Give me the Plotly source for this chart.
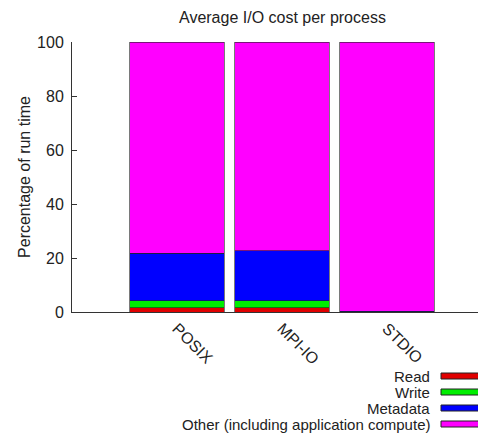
import plotly.graph_objects as go

categories = ["POSIX", "MPI-IO", "STDIO"]
read = [1.6, 1.6, 0.0]
write = [2.6, 2.6, 0.0]
metadata = [17.5, 18.4, 0.3]
other = [78.3, 77.4, 99.7]

series_names = ["Read", "Write", "Metadata", "Other (including application compute)"]
series_values = [read, write, metadata, other]
colors = ["#e00000", "#00ee00", "#0000ff", "#ff00ff"]

x_idx = list(range(len(categories)))

fig = go.Figure()
for name, vals, col in zip(series_names, series_values, colors):
    fig.add_trace(go.Bar(
        x=x_idx, y=vals, name=name, width=0.9,
        marker=dict(color=col, line=dict(color="#222222", width=0.6)),
        showlegend=False,
    ))

FONT = "Liberation Sans, Arial, Helvetica, sans-serif"
FS = 16
OFF = 8  # page body margin
W, H = 486 - OFF, 433 - OFF
ml, mr, mt, mb = 72 - OFF, 0, 42 - OFF, 433 - 312
pw, ph = W - ml - mr, H - mt - mb

def px_x(p):
    return (p - OFF - ml) / pw

def px_y(p):
    return (H - mb - (p - OFF)) / ph

# custom legend (text left of swatch, gnuplot style)
row_y = [376, 392, 408, 424]
annotations = [dict(text="Average I/O cost per process", x=px_x(282), y=px_y(17),
                    xref="paper", yref="paper", xanchor="center", yanchor="middle",
                    showarrow=False, font=dict(family=FONT, size=FS, color="#222222"))]
shapes = []
for name, col, ry in zip(series_names, colors, row_y):
    annotations.append(dict(text=name, x=px_x(432), y=px_y(ry), xref="paper", yref="paper",
                            xanchor="right", yanchor="middle", showarrow=False,
                            font=dict(family=FONT, size=15, color="#222222")))
    shapes.append(dict(type="rect", xref="paper", yref="paper",
                       x0=px_x(441), x1=px_x(483), y0=px_y(ry - 3), y1=px_y(ry + 3),
                       fillcolor=col, line=dict(color="#222222", width=1)))

fig.update_layout(
    width=W, height=H,
    margin=dict(l=ml, r=mr, t=mt, b=mb, pad=0),
    plot_bgcolor="white", paper_bgcolor="white",
    barmode="stack", bargap=0.1,
    font=dict(family=FONT, size=FS, color="#222222"),
    annotations=annotations, shapes=shapes,
    xaxis=dict(range=[-1, pw / 105 - 1], tickmode="array", tickvals=x_idx,
               ticktext=categories, tickangle=45, showline=True, linecolor="#333333",
               linewidth=1, ticks="", showgrid=False, zeroline=False,
               tickfont=dict(family=FONT, size=FS, color="#222222")),
    yaxis=dict(range=[0, 100], tickvals=[0, 20, 40, 60, 80, 100], showline=True,
               linecolor="#333333", linewidth=1, ticks="inside", ticklen=5,
               tickcolor="#333333", showgrid=False, zeroline=False,
               ticklabelstandoff=4,
               title=dict(text="Percentage of run time", standoff=2,
                          font=dict(family=FONT, size=FS, color="#222222")),
               tickfont=dict(family=FONT, size=FS, color="#222222")),
)

fig.write_html("out.html")
